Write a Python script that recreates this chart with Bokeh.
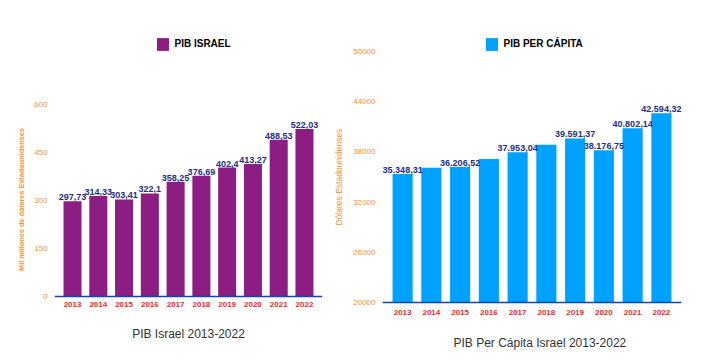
from bokeh.plotting import figure
from bokeh.models import Range1d, FactorRange, FixedTicker, Legend, LegendItem, Title, ColumnDataSource
from bokeh.layouts import row
from bokeh.embed import file_html
from bokeh.resources import INLINE
from bokeh.core.properties import value

years = ["2013", "2014", "2015", "2016", "2017", "2018", "2019", "2020", "2021", "2022"]
gdp = [297.73, 314.33, 303.41, 322.1, 358.25, 376.69, 402.4, 413.27, 488.53, 522.03]
gdp_pc = [35348.31, 36110.0, 36206.52, 37160.0, 37953.04, 38840.0, 39591.37, 38176.75, 40802.14, 42594.32]
gdp_pc_shown = [True, False, True, False, True, False, True, True, True, True]
gdp_ticks = [0, 150, 300, 450, 600]
gdp_pc_ticks = [20000, 26000, 32000, 38000, 44000, 50000]

PURPLE = "#8c1d82"
BLUE = "#00a2ff"
NAVY = "#1d2f85"
RED = "#ff2424"
ORANGE = "#ff9030"
AXIS = "#1446b0"
SANS = "Liberation Sans"


def es2(v):
    return f"{v:,.2f}".replace(",", "X").replace(".", ",").replace("X", ".")


def es(v):
    return f"{v:g}".replace(".", ",")


def style(p, ticks, base, xstand):
    p.xgrid.visible = False
    p.ygrid.visible = False
    p.outline_line_color = None
    p.xaxis.fixed_location = base
    p.xaxis.axis_line_color = AXIS
    p.xaxis.axis_line_width = 1.5
    p.xaxis.major_tick_line_color = None
    p.xaxis.minor_tick_line_color = None
    p.xaxis.major_tick_out = 0
    p.xaxis.major_tick_in = 0
    p.xaxis.major_label_text_color = RED
    p.xaxis.major_label_text_font = SANS
    p.xaxis.major_label_text_font_style = "bold"
    p.xaxis.major_label_text_font_size = "8px"
    p.xaxis.major_label_standoff = xstand
    p.yaxis.ticker = FixedTicker(ticks=ticks)
    p.yaxis.axis_line_color = None
    p.yaxis.major_tick_line_color = None
    p.yaxis.minor_tick_line_color = None
    p.yaxis.major_tick_out = 0
    p.yaxis.major_tick_in = 0
    p.yaxis.major_label_text_color = ORANGE
    p.yaxis.major_label_text_font = SANS
    p.yaxis.major_label_text_font_size = "8px"
    p.yaxis.major_label_standoff = 7


def legend(r, label, loc):
    return Legend(items=[LegendItem(label=label, renderers=[r])], location=loc,
                  border_line_color=None, background_fill_alpha=0, padding=0, margin=0,
                  glyph_width=15, glyph_height=16, label_height=16, label_standoff=5,
                  label_text_font=SANS, label_text_font_style="bold", label_text_font_size="10px",
                  label_text_color="black")


# ---- left chart ----
p1 = figure(width=324, height=363,
            x_range=FactorRange(factors=years, range_padding=0.2, range_padding_units="absolute"),
            y_range=Range1d(-73.06, 859.6),
            output_backend="svg", toolbar_location=None,
            min_border_left=54, min_border_right=2, min_border_top=20, min_border_bottom=43)
src1 = ColumnDataSource(dict(x=years, top=gdp, lab=[es(v) for v in gdp]))
r1 = p1.vbar(x="x", top="top", width=0.7, source=src1, fill_color=PURPLE, line_color=None)
p1.text(x="x", y="top", text="lab", source=src1, text_align="center", text_baseline="alphabetic",
        y_offset=-4, text_font=value(SANS), text_font_style="bold", text_font_size="9px",
        text_color=NAVY)
style(p1, gdp_ticks, 0, 5)
p1.add_layout(Title(text="Mil millones de dólares Estadounidenses", align="left", offset=49.6,
                    vertical_align="bottom", standoff=11, text_font=SANS, text_font_style="bold",
                    text_font_size="7.3px", text_color=ORANGE), "left")
p1.add_layout(legend(r1, "PIB ISRAEL", (100.5, 268.5)))
p1.add_layout(Title(text="PIB Israel 2013-2022", align="center", text_font=SANS,
                    text_font_style="normal", text_font_size="12px", text_color="#333333",
                    standoff=8), "below")

# ---- right chart ----
p2 = figure(width=378, height=363,
            x_range=FactorRange(factors=years, range_padding=0.2, range_padding_units="absolute"),
            y_range=Range1d(17889.5, 53661),
            output_backend="svg", toolbar_location=None,
            min_border_left=57, min_border_right=21, min_border_top=20, min_border_bottom=43)
src2 = ColumnDataSource(dict(x=years, top=gdp_pc))
r2 = p2.vbar(x="x", top="top", bottom=20000, width=0.7, source=src2, fill_color=BLUE, line_color=None)
lx = [y for y, s in zip(years, gdp_pc_shown) if s]
ly = [v for v, s in zip(gdp_pc, gdp_pc_shown) if s]
src2l = ColumnDataSource(dict(x=lx, y=ly, lab=[es2(v) for v in ly]))
p2.text(x="x", y="y", text="lab", source=src2l, text_align="center", text_baseline="alphabetic",
        y_offset=-4, text_font=value(SANS), text_font_style="bold", text_font_size="9px",
        text_color=NAVY)
style(p2, gdp_pc_ticks, 20000, 7)
p2.add_layout(Title(text="Dólares Estadounidenses", align="left", offset=95,
                    vertical_align="bottom", standoff=13.6, text_font=SANS, text_font_style="normal",
                    text_font_size="8.5px", text_color=ORANGE), "left")
p2.add_layout(legend(r2, "PIB PER CÁPITA", (101.5, 268.5)))
p2.add_layout(Title(text="PIB Per Cápita Israel 2013-2022", align="left", offset=71, text_font=SANS,
                    text_font_style="normal", text_font_size="12px", text_color="#333333",
                    standoff=26), "below")

layout = row(p1, p2)
open("out.html", "w").write(file_html(layout, INLINE))
